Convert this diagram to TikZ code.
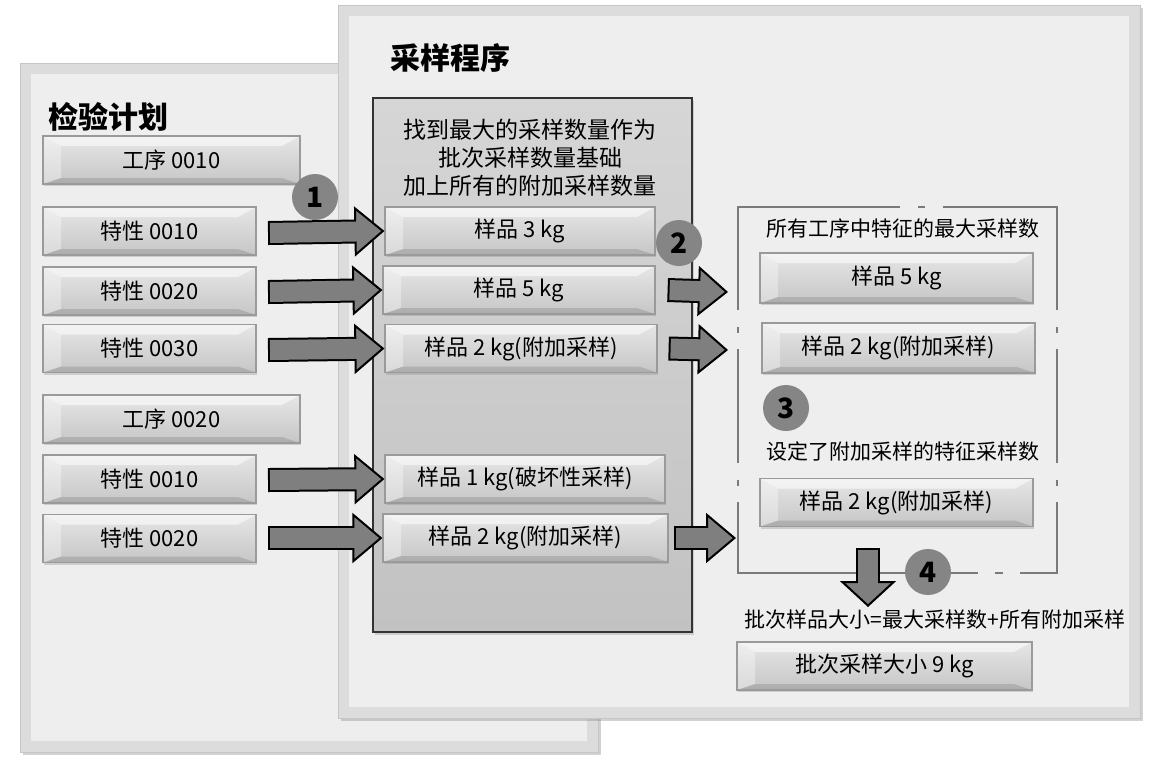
\documentclass[tikz,border=0pt]{standalone}
\usepackage{fontspec}
\setmainfont{Noto Sans CJK SC}
\usetikzlibrary{calc,arrows.meta,shadows}
\definecolor{PanelEdge}{HTML}{DCDCDC}
\definecolor{PanelFill}{HTML}{EEEEEE}
\definecolor{BtnTop}{HTML}{E6E6E6}
\definecolor{BtnBot}{HTML}{C6C6C6}
\definecolor{BtnEdge}{HTML}{9A9A9A}
\definecolor{MidTop}{HTML}{D6D6D6}
\definecolor{MidBot}{HTML}{C2C2C2}
\definecolor{ArrowGray}{HTML}{7F7F7F}
\definecolor{BadgeGray}{HTML}{858585}
\definecolor{LineGray}{HTML}{7A7A7A}
\tikzset{
  btn/.style={draw=BtnEdge, line width=0.6pt, top color=BtnTop, bottom color=BtnBot,
    minimum height=24pt, inner sep=0pt, font=\fontsize{11}{13}\selectfont,
    drop shadow={shadow xshift=0.5pt, shadow yshift=-1.2pt, opacity=0.3},
    path picture={
      \fill[white, opacity=0.55] (path picture bounding box.north west) -- (path picture bounding box.north east)
        -- ([xshift=-9pt, yshift=-5pt]path picture bounding box.north east)
        -- ([xshift=9pt, yshift=-5pt]path picture bounding box.north west) -- cycle;
      \fill[white, opacity=0.35] (path picture bounding box.north west)
        -- ([xshift=9pt, yshift=-5pt]path picture bounding box.north west)
        -- ([xshift=9pt, yshift=3pt]path picture bounding box.south west)
        -- (path picture bounding box.south west) -- cycle;
      \fill[black, opacity=0.12] (path picture bounding box.south west) -- (path picture bounding box.south east)
        -- ([xshift=-9pt, yshift=3pt]path picture bounding box.south east)
        -- ([xshift=9pt, yshift=3pt]path picture bounding box.south west) -- cycle;
    }},
  badge/.style={circle, fill=BadgeGray, minimum size=23pt, inner sep=0pt,
    font=\bfseries\fontsize{14}{14}\selectfont},
  title/.style={anchor=west, inner sep=0pt, font=\bfseries\fontsize{15}{15}\selectfont},
  note/.style={inner sep=0pt, font=\fontsize{10.5}{13}\selectfont},
  gapline/.style={LineGray, line width=1.3pt},
}
% big outlined block arrow
\NewDocumentCommand{\FatArrow}{m m O{15pt} O{25pt}}{
    \draw[line width=12pt, black, -{Triangle[length=#3, width=#4, fill=ArrowGray, line width=1pt]}] (#1) -- (#2);
    \draw[line width=10pt, ArrowGray, shorten <=1pt, shorten >=#3-5pt] (#1) -- (#2);
}
% bevelled panel
\NewDocumentCommand{\Panel}{m m}{
    \fill[PanelEdge, draw=gray!45, drop shadow={shadow xshift=1.5pt, shadow yshift=-1.5pt, opacity=0.35}] #1 rectangle #2;
    \begin{scope}[shift={(11,11)}]
    \fill[PanelFill] #1 rectangle ($#2-(22,22)$);
    \end{scope}
}

\begin{document}
\begin{tikzpicture}[x=0.5pt, y=-0.5pt]
\useasboundingbox (0,0) rectangle (1155,773);
\fill[white] (0,0) rectangle (1155,773);

% panels
\Panel{(20,63)}{(598,752)}
\Panel{(338,5)}{(1140,718)}

\node[title] (plan-title) at (48,117) {检验计划};
\node[title] (proc-title) at (390,58) {采样程序};

% inspection plan
\node[btn, minimum width=128.5pt] (op1) at (171.5,160) {工序 0010};
\node[btn, minimum width=106.5pt] (c11) at (149.5,231) {特性 0010};
\node[btn, minimum width=106.5pt] (c12) at (149.5,291) {特性 0020};
\node[btn, minimum width=106.5pt] (c13) at (149.5,348.5) {特性 0030};
\node[btn, minimum width=128.5pt] (op2) at (171.5,419) {工序 0020};
\node[btn, minimum width=106.5pt] (c21) at (149.5,479) {特性 0010};
\node[btn, minimum width=106.5pt] (c22) at (149.5,538.5) {特性 0020};

% sampling
\draw[draw=black!80, line width=1pt, top color=MidTop, bottom color=MidBot,
      drop shadow={shadow xshift=1pt, shadow yshift=-1.5pt, opacity=0.3}] (373,98) rectangle (692,632);
\node[inner sep=0pt, align=center, font=\fontsize{11.5}{14}\selectfont] (mid-note) at (530,158)
    {找到最大的采样数量作为\\批次采样数量基础\\加上所有的附加采样数量};

\node[btn, minimum width=135pt] (m1) at (520,231) {样品 3 kg};
\node[btn, minimum width=136pt] (m2) at (519,290) {样品 5 kg};
\node[btn, minimum width=136pt] (m3) at (521,348.5) {样品 2 kg(附加采样)};
\node[btn, minimum width=140pt] (m4) at (525,479) {样品 1 kg(破坏性采样)};
\node[btn, minimum width=142.5pt] (m5) at (525.5,538) {样品 2 kg(附加采样)};

% gapped frame
\draw[gapline] (900,207) -- (738,207) -- (738,310);
\draw[gapline] (738,327) -- (738,333);
\draw[gapline] (738,349) -- (738,463);
\draw[gapline] (738,480) -- (738,486);
\draw[gapline] (738,502) -- (738,573) -- (978,573);
\draw[gapline] (995,573) -- (1003,573);
\draw[gapline] (1020,573) -- (1057,573) -- (1057,502);
\draw[gapline] (1057,486) -- (1057,480);
\draw[gapline] (1057,463) -- (1057,349);
\draw[gapline] (1057,333) -- (1057,327);
\draw[gapline] (1057,310) -- (1057,207) -- (943,207);
\draw[gapline] (918,207) -- (925,207);

\node[note] (max-note) at (903,228) {所有工序中特征的最大采样数};
\node[btn, minimum width=136.5pt, minimum height=25pt] (r1) at (896.5,278) {样品 5 kg};
\node[btn, minimum width=136.5pt, minimum height=25pt] (r2) at (898.5,348) {样品 2 kg(附加采样)};
\node[note] (add-note) at (903,451) {设定了附加采样的特征采样数};
\node[btn, minimum width=136.5pt] (r3) at (896.5,502.5) {样品 2 kg(附加采样)};

\node[note] (sum-note) at (935,620) {批次样品大小=最大采样数+所有附加采样};
\node[btn, minimum width=147.5pt] (lot) at (884.5,666) {批次采样大小 9 kg};

\coordinate (in-a) at (728,292);
\coordinate (in-b) at (728,350);
\coordinate (in-c) at (736,538);
\coordinate (down-top) at (868,548);
\coordinate (down-tip) at (868,607);

% arrows
\FatArrow{268,233}{m1.west}
\FatArrow{268,292}{m2.west}
\FatArrow{268,350}{m3.west}
\FatArrow{268,480}{m4.west}
\FatArrow{268,538}{m5.west}
\FatArrow{[xshift=6pt]m2.east}{in-a}
\FatArrow{[xshift=5.5pt]m3.east}{in-b}
\FatArrow{[xshift=2.5pt]m5.east}{in-c}
\FatArrow{down-top}{down-tip}[13pt][28pt]

% step badges
\node[badge] (s1) at (315,197) {1};
\node[badge] (s2) at (679,243) {2};
\node[badge] (s3) at (786,408) {3};
\node[badge] (s4) at (928,572) {4};
\end{tikzpicture}
\end{document}
